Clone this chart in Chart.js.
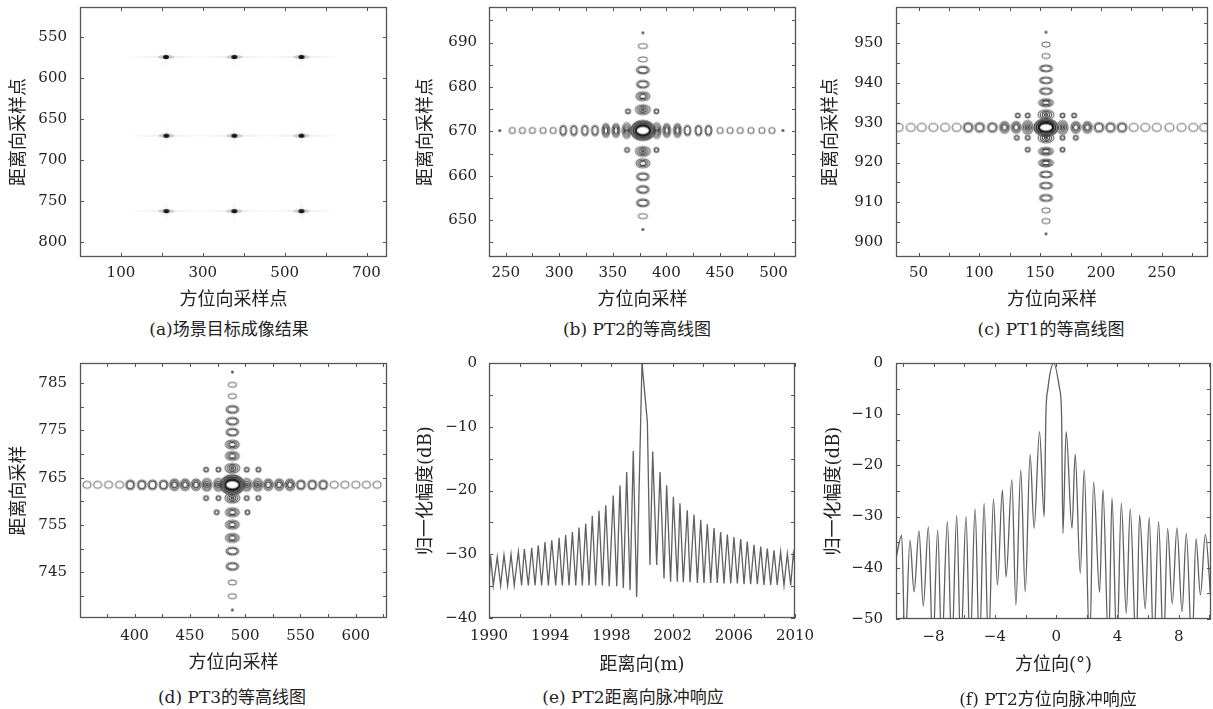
<!DOCTYPE html>
<html>
<head>
<meta charset="utf-8">
<script src="https://cdn.jsdelivr.net/npm/chart.js@4.4.1/dist/chart.umd.min.js"></script>
<style>
  body { margin: 0; background: #fff; width: 1213px; height: 709px; position: relative; overflow: hidden;
         font-family: 'DejaVu Serif', 'Noto Sans CJK SC', serif; color: #222; }
  canvas { position: absolute; }
  .cap { position: absolute; font-size: 17px; white-space: nowrap; transform: translate(-50%, -50%); }
</style>
</head>
<body>
<canvas id="pa" width="400" height="311" style="left:0;top:0"></canvas>
<canvas id="pb" width="410" height="311" style="left:400px;top:0"></canvas>
<canvas id="pc" width="403" height="311" style="left:810px;top:0"></canvas>
<canvas id="pd" width="400" height="324" style="left:0;top:350px"></canvas>
<canvas id="pe" width="420" height="326" style="left:400px;top:350px"></canvas>
<canvas id="pf" width="403" height="326" style="left:810px;top:350px"></canvas>

<div class="cap" style="left:229px;top:327px">(a)场景目标成像结果</div>
<div class="cap" style="left:637px;top:327px">(b) PT2的等高线图</div>
<div class="cap" style="left:1051px;top:327px">(c) PT1的等高线图</div>
<div class="cap" style="left:232px;top:695px">(d) PT3的等高线图</div>
<div class="cap" style="left:633px;top:695px">(e) PT2距离向脉冲响应</div>
<div class="cap" style="left:1048px;top:697px">(f) PT2方位向脉冲响应</div>

<script>
// ---- data ----
// (a) scene: nine point targets
const sceneAz = [210, 377, 541, 211, 377, 541, 211, 377, 541];
const sceneRg = [574, 574, 574, 670, 670, 670, 762, 762, 762];
const sceneXTicks = [100, 200, 300, 400, 500, 600, 700];
const sceneXLabels = [100, 300, 500, 700];
const sceneYTicks = [550, 600, 650, 700, 750, 800];

// (b) PT2 contour: lobes along the azimuth row and the range column
const pt2Center = [378, 670.2];
const pt2RowAz = [244.4, 256.2, 265.6, 274.9, 284.9, 294.3, 303.6, 313.6, 323.9, 333.3, 343.5, 352.9, 362.9,
                  390.9, 400.3, 410.3, 419.6, 429.9, 439.3, 450.2, 459.5, 468.9, 478.9, 489.2, 498.5, 508.8];
const pt2RowLvl = [0, 1, 1, 1, 1, 1, 2, 2, 2, 2, 3, 3, 4,
                   4, 3, 3, 2, 2, 2, 1, 1, 1, 1, 1, 1, 0];
const pt2ColRg = [692.2, 689.2, 686.2, 683.8, 680.6, 677.9, 674.9,
                  665.5, 662.8, 659.8, 656.9, 653.9, 650.9, 647.9];
const pt2ColLvl = [0, 1, 1, 2, 2, 3, 4,
                   4, 3, 2, 2, 2, 1, 0];
const pt2DiagAz = [364.2, 390.7, 363.3, 390.7];
const pt2DiagRg = [674.5, 674.5, 665.8, 665.8];
const pt2XTicks = [250, 275, 300, 325, 350, 375, 400, 425, 450, 475, 500];
const pt2XLabels = [250, 300, 350, 400, 450, 500];
const pt2YTicks = [645, 650, 655, 660, 665, 670, 675, 680, 685, 690, 695];
const pt2YLabels = [650, 660, 670, 680, 690];

// (c) PT1 contour
const pt1Center = [154.8, 928.8];
const pt1RowAz = [33.7, 43.7, 52.7, 62.2, 71.8, 81.3, 90.8, 100.3, 110.7, 120.7, 130.3, 139.8,
                  168.4, 179.3, 188.8, 198.3, 207.8, 217.3, 226.9, 236.4, 245.9, 256.3, 266.3, 275.9, 284.8];
const pt1RowLvl = [1, 1, 1, 1, 1, 1, 2, 2, 2, 3, 3, 4,
                   4, 3, 3, 2, 2, 2, 1, 1, 1, 1, 1, 1, 1];
const pt1ColRg = [952.7, 949.6, 946.7, 943.6, 940.6, 937.9, 935, 932,
                  926.2, 922.8, 919.9, 917, 914.2, 911.1, 908, 905.3, 902.1];
const pt1ColLvl = [0, 1, 1, 2, 2, 2, 3, 4,
                   4, 3, 3, 2, 2, 2, 1, 1, 0];
const pt1DiagAz = [131.6, 139.8, 168.4, 177.9, 130.8, 139.8, 168.4, 179.3, 139.8, 168.4];
const pt1DiagRg = [931.8, 931.8, 931.8, 931.8, 926.2, 926.2, 926.2, 926.2, 923.2, 923.2];
const pt1XTicks = [50, 75, 100, 125, 150, 175, 200, 225, 250, 275];
const pt1XLabels = [50, 100, 150, 200, 250];
const pt1YTicks = [900, 905, 910, 915, 920, 925, 930, 935, 940, 945, 950, 955];
const pt1YLabels = [900, 910, 920, 930, 940, 950];

// (d) PT3 contour
const pt3Center = [488.4, 763.5];
const pt3RowAz = [357, 366.6, 376.5, 386.5, 396.1, 406.6, 416.2, 426.2, 436.1, 445.7, 455.6, 465.3, 475.8,
                  501.4, 511.3, 520.9, 530.8, 540.5, 550.4, 560.6, 570.5, 580.5, 590.1, 600, 609.6, 619.2];
const pt3RowLvl = [1, 1, 1, 1, 2, 2, 2, 2, 3, 3, 3, 4, 4,
                   4, 4, 3, 3, 3, 2, 2, 2, 1, 1, 1, 1, 1];
const pt3ColRg = [787.3, 784.6, 782.2, 779.4, 776.9, 774.6, 772, 769.6, 767,
                  760.7, 757.7, 755.1, 752.3, 749.5, 746.3, 742.9, 740, 737.1];
const pt3ColLvl = [0, 1, 1, 2, 2, 2, 3, 3, 4,
                   4, 3, 3, 3, 2, 2, 1, 1, 0];
const pt3DiagAz = [464.7, 475.8, 501.4, 511.9, 464.7, 475.8, 501.4, 511.9, 474.3, 502];
const pt3DiagRg = [766.7, 766.7, 766.7, 766.7, 760.7, 760.7, 760.7, 760.7, 757.7, 757.7];
const pt3XTicks = [375, 400, 425, 450, 475, 500, 525, 550, 575, 600, 625];
const pt3XLabels = [400, 450, 500, 550, 600];
const pt3YTicks = [740, 745, 750, 755, 760, 765, 770, 775, 780, 785];
const pt3YLabels = [745, 755, 765, 775, 785];

// (e) PT2 range impulse response (peaks and nulls, in order)
const rangeX = [
  1990.0, 1990.1, 1990.28, 1990.54, 1990.76, 1990.98, 1991.22, 1991.44, 1991.65, 1991.92,
  1992.13, 1992.31, 1992.57, 1992.79, 1993.01, 1993.22, 1993.44, 1993.66, 1993.88, 1994.1,
  1994.36, 1994.58, 1994.79, 1995.01, 1995.23, 1995.45, 1995.67, 1995.88, 1996.1, 1996.32,
  1996.54, 1996.75, 1996.97, 1997.19, 1997.41, 1997.63, 1997.86, 1998.12, 1998.35, 1998.56,
  1998.78, 1999.0, 1999.22, 1999.43, 1999.65, 2000.0, 2000.35, 2000.52, 2000.7, 2000.96,
  2001.18, 2001.44, 2001.61, 2001.87, 2002.05, 2002.31, 2002.48, 2002.7, 2002.96, 2003.14,
  2003.4, 2003.62, 2003.84, 2004.05, 2004.27, 2004.49, 2004.71, 2004.92, 2005.14, 2005.36,
  2005.58, 2005.8, 2006.01, 2006.23, 2006.45, 2006.67, 2006.88, 2007.1, 2007.32, 2007.54,
  2007.76, 2007.97, 2008.19, 2008.41, 2008.63, 2008.84, 2009.06, 2009.28, 2009.5, 2009.72,
  2009.89, 2010.0];
const rangeDb = [
  -34.5, -30.2, -34.9, -30.4, -34.9, -30.1, -34.9, -30.0, -34.9, -29.6,
  -34.9, -29.2, -34.9, -29.0, -34.9, -28.6, -34.9, -28.1, -34.9, -27.8,
  -34.9, -27.4, -34.9, -27.0, -34.9, -26.5, -34.9, -25.8, -34.9, -25.2,
  -34.9, -24.0, -34.9, -23.2, -34.9, -22.3, -35.0, -20.8, -35.0, -19.2,
  -35.3, -17.1, -35.6, -13.8, -36.7, 0, -9.2, -31.7, -13.9, -31.7,
  -17.1, -33.8, -19.2, -34.3, -21.0, -34.3, -22.0, -34.4, -23.1, -34.4,
  -23.8, -34.5, -24.6, -34.5, -25.3, -34.5, -25.9, -34.5, -26.5, -34.6,
  -26.9, -34.6, -27.3, -34.6, -27.6, -34.7, -28.0, -34.7, -28.5, -34.7,
  -28.8, -34.8, -29.1, -34.8, -29.4, -34.8, -29.6, -34.9, -29.9, -34.9,
  -29.9, -31.5];
const rangeXTicks = [1990, 1992, 1994, 1996, 1998, 2000, 2002, 2004, 2006, 2008, 2010];
const rangeXLabels = [1990, 1994, 1998, 2002, 2006, 2010];
const rangeYTicks = [-40, -35, -30, -25, -20, -15, -10, -5, 0];
const rangeYLabels = [-40, -30, -20, -10, 0];

// (f) PT2 azimuth impulse response (values below -50 run off the axis)
const azX = [
  -10.45, -10.08, -9.86, -9.54, -9.27, -8.95, -8.67, -8.34, -8.05, -7.73,
  -7.47, -7.1, -6.81, -6.49, -6.23, -5.88, -5.62, -5.29, -5.01, -4.7,
  -4.42, -4.09, -3.83, -3.51, -3.27, -2.89, -2.63, -2.31, -2.02, -1.7,
  -1.44, -1.09, -0.78, -0.67, -0.54, -0.16, 0.22, 0.35, 0.44, 0.65,
  1.03, 1.24, 1.57, 1.83, 2.18, 2.44, 2.83, 3.05, 3.42, 3.64,
  3.96, 4.25, 4.57, 4.83, 5.22, 5.44, 5.81, 6.07, 6.36, 6.68,
  7.0, 7.27, 7.57, 7.88, 8.21, 8.49, 8.86, 9.12, 9.41, 9.73,
  10.1];
const azDb = [
  -38.2, -33.6, -56, -34.6, -44.7, -32.8, -47.5, -32.0, -56, -32.6,
  -56, -31.0, -56, -29.8, -56, -30.0, -56, -28.5, -56, -27.4,
  -56, -26.6, -43.4, -24.8, -41.8, -22.8, -47.3, -20.9, -44.7, -17.9,
  -32.3, -13.4, -30.0, -10.0, -5.0, 0, -5.0, -10.0, -33.3, -13.4,
  -32.3, -17.8, -41.1, -20.9, -56, -23.2, -44.8, -24.8, -56, -26.4,
  -56, -27.4, -48.9, -28.5, -56, -29.7, -48.0, -30.2, -56, -31.0,
  -56, -32.3, -47, -32.2, -48.6, -33.3, -56, -34.3, -45.3, -33.5,
  -46.7];
const azXTicks = [-10, -8, -6, -4, -2, 0, 2, 4, 6, 8, 10];
const azXLabels = [-8, -4, 0, 4, 8];
const azYTicks = [-50, -45, -40, -35, -30, -25, -20, -15, -10, -5, 0];
const azYLabels = [-50, -40, -30, -20, -10, 0];

// ---- styling helpers ----
const INK = '#222';
const tickFont = { family: "'DejaVu Serif', serif", size: 15 };
const titleFont = { family: "'DejaVu Serif', 'Noto Sans CJK SC', serif", size: 18, lineHeight: 1.2 };
const ringInks = ['#6e6e6e', '#4e4e4e', '#383838', '#262626'];

function ringSprite(w, h, rings) {
  const c = document.createElement('canvas');
  c.width = Math.ceil(w) + 4; c.height = Math.ceil(h) + 4;
  const g = c.getContext('2d');
  const cx = c.width / 2, cy = c.height / 2;
  g.lineWidth = 1.1;
  if (rings === 0) {
    g.fillStyle = '#555';
    g.beginPath(); g.ellipse(cx, cy, w / 2, h / 2, 0, 0, Math.PI * 2); g.fill();
    return c;
  }
  for (let i = 0; i < rings; i++) {
    const k = 1 - i * 0.27;
    g.strokeStyle = ringInks[i];
    g.beginPath(); g.ellipse(cx, cy, Math.max(w / 2 * k, 0.8), Math.max(h / 2 * k, 0.8), 0, 0, Math.PI * 2); g.stroke();
  }
  return c;
}

function coreSprite(w, h) {
  const c = document.createElement('canvas');
  c.width = w + 4; c.height = h + 4;
  const g = c.getContext('2d');
  const cx = c.width / 2, cy = c.height / 2;
  g.fillStyle = 'rgba(60,60,60,0.6)';
  g.beginPath(); g.ellipse(cx, cy, w / 2, h / 2, 0, 0, Math.PI * 2); g.fill();
  g.lineWidth = 1.2;
  [[1, '#444'], [0.8, '#2a2a2a'], [0.62, '#1e1e1e']].forEach(([k, col]) => {
    g.strokeStyle = col;
    g.beginPath(); g.ellipse(cx, cy, w / 2 * k, h / 2 * k, 0, 0, Math.PI * 2); g.stroke();
  });
  g.fillStyle = '#fff';
  g.beginPath(); g.ellipse(cx, cy, w * 0.24, h * 0.16, 0, 0, Math.PI * 2); g.fill();
  g.strokeStyle = '#111'; g.lineWidth = 1.5;
  g.beginPath(); g.ellipse(cx, cy, w * 0.3, h * 0.24, 0, 0, Math.PI * 2); g.stroke();
  return c;
}

function sceneSprite() {
  const c = document.createElement('canvas');
  c.width = 80; c.height = 24;
  const g = c.getContext('2d');
  let gr = g.createLinearGradient(0, 0, 80, 0);
  gr.addColorStop(0, 'rgba(0,0,0,0)'); gr.addColorStop(0.5, 'rgba(0,0,0,0.08)'); gr.addColorStop(1, 'rgba(0,0,0,0)');
  g.fillStyle = gr; g.fillRect(0, 11, 80, 2);
  gr = g.createLinearGradient(0, 0, 0, 24);
  gr.addColorStop(0, 'rgba(0,0,0,0)'); gr.addColorStop(0.5, 'rgba(0,0,0,0.08)'); gr.addColorStop(1, 'rgba(0,0,0,0)');
  g.fillStyle = gr; g.fillRect(39, 0, 2, 24);
  g.fillStyle = 'rgba(0,0,0,0.15)';
  g.beginPath(); g.ellipse(40, 12, 8, 2.5, 0, 0, Math.PI * 2); g.fill();
  g.fillStyle = '#151515';
  g.beginPath(); g.ellipse(40, 12, 3, 2, 0, 0, Math.PI * 2); g.fill();
  return c;
}

const fmt = v => String(v).replace('-', '\u2212');

function axis(horizontal, min, max, ticks, labels, title, o) {
  return {
    type: 'linear', min, max, reverse: !!o.reverse,
    grid: { display: false, drawTicks: false, tickLength: 0 },
    border: { display: false },
    afterBuildTicks: s => { s.ticks = ticks.map(v => ({ value: v })); },
    ticks: { autoSkip: false, maxRotation: 0, minRotation: 0, padding: o.tickPad, font: tickFont, color: INK,
             callback: v => labels.includes(v) ? fmt(v) : '' },
    title: { display: true, text: title, font: titleFont, color: INK, padding: o.titlePad },
    afterFit: s => {
      if (horizontal) s.height = o.size; else s.width = o.size;
      s.paddingLeft = s.paddingRight = s.paddingTop = s.paddingBottom = 0;
    }
  };
}

// frame around the plot area plus inward tick marks on all four sides
const framePlugin = {
  id: 'frame',
  afterDatasetsDraw(chart) {
    const { ctx, chartArea: a, scales: { x, y } } = chart;
    ctx.save();
    ctx.strokeStyle = '#555';
    ctx.lineWidth = 1;
    ctx.beginPath();
    x.ticks.forEach(t => {
      const p = Math.round(x.getPixelForValue(t.value)) + 0.5;
      ctx.moveTo(p, a.bottom); ctx.lineTo(p, a.bottom - 4);
      ctx.moveTo(p, a.top); ctx.lineTo(p, a.top + 4);
    });
    y.ticks.forEach(t => {
      const p = Math.round(y.getPixelForValue(t.value)) + 0.5;
      ctx.moveTo(a.left, p); ctx.lineTo(a.left + 4, p);
      ctx.moveTo(a.right, p); ctx.lineTo(a.right - 4, p);
    });
    ctx.stroke();
    ctx.lineWidth = 1.3;
    ctx.strokeRect(a.left + 0.5, a.top + 0.5, a.right - a.left - 1, a.bottom - a.top - 1);
    ctx.restore();
  }
};

function makeChart(id, datasets, geo, xs, ys) {
  return new Chart(document.getElementById(id), {
    type: 'scatter',
    data: { datasets },
    options: {
      responsive: false, animation: false, events: [],
      layout: { padding: { left: 0, top: geo.top, right: geo.right, bottom: 0 } },
      plugins: { legend: { display: false }, tooltip: { enabled: false } },
      scales: { x: xs, y: ys }
    },
    plugins: [framePlugin]
  });
}

function contourSets(center, rowAz, rowLvl, colRg, colLvl, diagAz, diagRg, sz) {
  const hS = sz.h.map(([w, h], i) => ringSprite(w, h, i));
  const vS = sz.v.map(([w, h], i) => ringSprite(w, h, i));
  const dot = ringSprite(5, 5, 2);
  const core = coreSprite(sz.core[0], sz.core[1]);
  const base = { showLine: false, pointRadius: 3 };
  return [
    { ...base, data: rowAz.map((x, i) => ({ x, y: center[1], lvl: rowLvl[i] })),
      pointStyle: c => c.raw ? hS[c.raw.lvl] : hS[1] },
    { ...base, data: colRg.map((y, i) => ({ x: center[0], y, lvl: colLvl[i] })),
      pointStyle: c => c.raw ? vS[c.raw.lvl] : vS[1] },
    { ...base, data: diagAz.map((x, i) => ({ x, y: diagRg[i] })), pointStyle: dot },
    { ...base, data: [{ x: center[0], y: center[1] }], pointStyle: core }
  ];
}

// ---- (a) ----
makeChart('pa',
  [{ data: sceneAz.map((x, i) => ({ x, y: sceneRg[i] })), showLine: false, pointRadius: 3, pointStyle: sceneSprite() }],
  { top: 7, right: 13 },
  axis(true, 0, 750, sceneXTicks, sceneXLabels, '方位向采样点', { size: 54, tickPad: 7, titlePad: 0 }),
  axis(false, 513, 818, sceneYTicks, sceneYTicks, '距离向采样点', { size: 80, tickPad: 13, titlePad: 9, reverse: true }));

// ---- (b) ----
makeChart('pb',
  contourSets(pt2Center, pt2RowAz, pt2RowLvl, pt2ColRg, pt2ColLvl, pt2DiagAz, pt2DiagRg,
    { h: [[3, 3], [6, 6], [7, 11], [8, 14], [9, 16]], v: [[3, 3], [9, 5], [13, 8], [14, 9], [15, 10]], core: [24, 20] }),
  { top: 7, right: 14 },
  axis(true, 234.4, 521, pt2XTicks, pt2XLabels, '方位向采样', { size: 54, tickPad: 7, titlePad: 0 }),
  axis(false, 641.7, 698, pt2YTicks, pt2YLabels, '距离向采样点', { size: 89, tickPad: 12, titlePad: 16 }));

// ---- (c) ----
makeChart('pc',
  contourSets(pt1Center, pt1RowAz, pt1RowLvl, pt1ColRg, pt1ColLvl, pt1DiagAz, pt1DiagRg,
    { h: [[3, 3], [9, 8], [10, 10], [10, 12], [11, 14]], v: [[3, 3], [8, 5], [13, 7], [15, 8], [16, 10]], core: [24, 18] }),
  { top: 7, right: 3 },
  axis(true, 31.5, 288, pt1XTicks, pt1XLabels, '方位向采样', { size: 54, tickPad: 7, titlePad: 0 }),
  axis(false, 896.3, 959, pt1YTicks, pt1YLabels, '距离向采样点', { size: 86, tickPad: 13, titlePad: 11 }));

// ---- (d) ----
makeChart('pd',
  contourSets(pt3Center, pt3RowAz, pt3RowLvl, pt3ColRg, pt3ColLvl, pt3DiagAz, pt3DiagRg,
    { h: [[3, 3], [8, 7], [9, 10], [10, 12], [10, 13]], v: [[3, 3], [8, 5], [13, 8], [14, 9], [15, 10]], core: [24, 20] }),
  { top: 13, right: 13 },
  axis(true, 350.7, 628.2, pt3XTicks, pt3XLabels, '方位向采样', { size: 56, tickPad: 9, titlePad: 0 }),
  axis(false, 735.4, 789.2, pt3YTicks, pt3YLabels, '距离向采样', { size: 80, tickPad: 13, titlePad: 9 }));

// ---- (e) ----
makeChart('pe',
  [{ data: rangeX.map((x, i) => ({ x, y: rangeDb[i] })), showLine: true, pointRadius: 0,
     borderColor: '#606060', borderWidth: 1.3, tension: 0 }],
  { top: 13, right: 25 },
  axis(true, 1990, 2010, rangeXTicks, rangeXLabels, '距离向(m)', { size: 58, tickPad: 9, titlePad: 0 }),
  axis(false, -40, 0, rangeYTicks, rangeYLabels, '归一化幅度(dB)', { size: 89, tickPad: 12, titlePad: 16 }));

// ---- (f) ----
makeChart('pf',
  [{ data: azX.map((x, i) => ({ x, y: azDb[i] })), showLine: true, pointRadius: 0,
     borderColor: '#606060', borderWidth: 1.3, cubicInterpolationMode: 'monotone' }],
  { top: 13, right: 2 },
  axis(true, -10.45, 10.1, azXTicks, azXLabels, '方位向(°)', { size: 57, tickPad: 9, titlePad: 0 }),
  axis(false, -50, 0, azYTicks, azYLabels, '归一化幅度(dB)', { size: 86, tickPad: 13, titlePad: 14 }));
</script>
</body>
</html>
